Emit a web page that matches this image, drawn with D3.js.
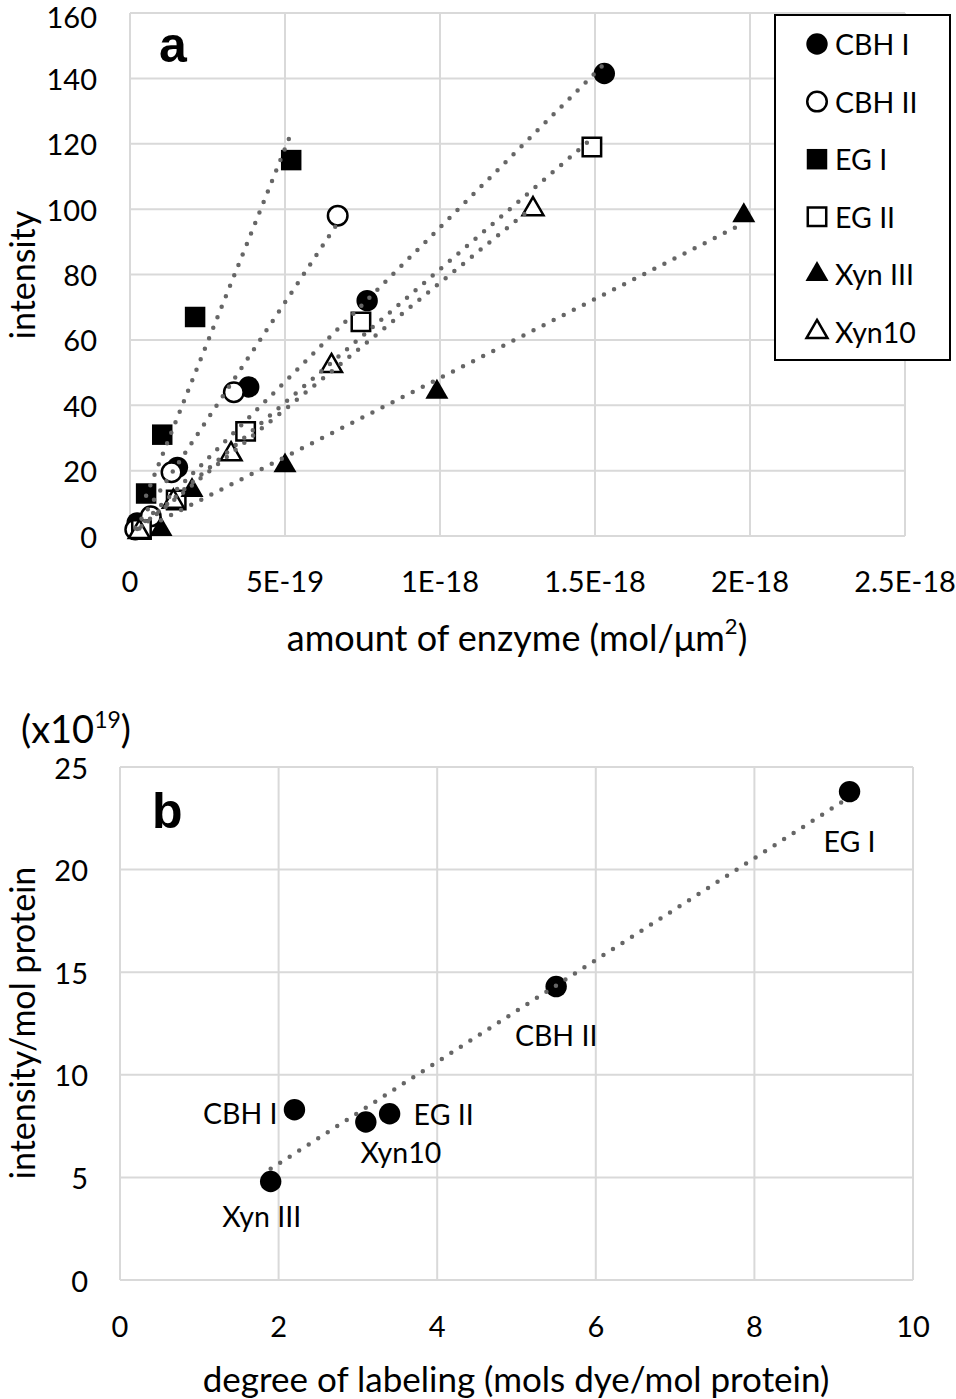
<!DOCTYPE html>
<html>
<head>
<meta charset="utf-8">
<script src="https://cdn.jsdelivr.net/npm/d3@7"></script>
<style>
  html, body { margin: 0; padding: 0; background: #fff; }
  svg { display: block; }
  text { font-family: Lato, "Noto Sans", sans-serif; fill: #000; }
</style>
</head>
<body>
<svg id="chart" width="956" height="1399"></svg>
<script>
// ---------------- Panel a data ----------------
const seriesNames = ["CBH I", "CBH II", "EG I", "EG II", "Xyn III", "Xyn10"];
const cbh1X = [2.3e-20, 1.53e-19, 3.83e-19, 7.65e-19, 1.53e-18];
const cbh1Y = [4, 21, 45.6, 72, 141.5];
const cbh2X = [1.7e-20, 6.7e-20, 1.34e-19, 3.35e-19, 6.7e-19];
const cbh2Y = [2, 6, 19.5, 44, 98];
const eg1X = [5.2e-20, 1.04e-19, 2.1e-19, 5.2e-19];
const eg1Y = [13, 31, 67, 115];
const eg2X = [3.7e-20, 1.49e-19, 3.73e-19, 7.45e-19, 1.49e-18];
const eg2Y = [2, 11, 32, 65.5, 119];
const xyn3X = [1.0e-19, 2.0e-19, 5.0e-19, 9.9e-19, 1.98e-18];
const xyn3Y = [2, 14, 21.5, 44, 98];
const xyn10X = [3.0e-20, 1.4e-19, 3.26e-19, 6.5e-19, 1.3e-18];
const xyn10Y = [1.2, 10.5, 25, 52, 100];
const xTicksA = [0, 5e-19, 1e-18, 1.5e-18, 2e-18, 2.5e-18];
const xTickLabelsA = ["0", "5E-19", "1E-18", "1.5E-18", "2E-18", "2.5E-18"];
const yTicksA = [0, 20, 40, 60, 80, 100, 120, 140, 160];

// ---------------- Panel b data ----------------
const enzymesB = ["EG I", "CBH II", "CBH I", "EG II", "Xyn10", "Xyn III"];
const dolB = [9.2, 5.5, 2.2, 3.4, 3.1, 1.9];
const intPerMolB = [23.8, 14.3, 8.3, 8.1, 7.7, 4.8];
const xTicksB = [0, 2, 4, 6, 8, 10];
const yTicksB = [0, 5, 10, 15, 20, 25];

const svg = d3.select("#chart");
const GRID = "#d9d9d9";
const TREND = "#666666";

// least-squares line with free intercept
function regression(xs, ys) {
  const n = xs.length;
  const mx = d3.mean(xs), my = d3.mean(ys);
  let sxy = 0, sxx = 0;
  for (let i = 0; i < n; i++) { sxy += (xs[i]-mx)*(ys[i]-my); sxx += (xs[i]-mx)*(xs[i]-mx); }
  const m = sxy / sxx;
  return { m, b: my - m * mx };
}
// least-squares line forced through the origin
function regressionOrigin(xs, ys) {
  let sxy = 0, sxx = 0;
  for (let i = 0; i < xs.length; i++) { sxy += xs[i]*ys[i]; sxx += xs[i]*xs[i]; }
  return { m: sxy / sxx, b: 0 };
}

const markerShapes = [
  { type: d3.symbolCircle, size: 360, fill: "#000" },
  { type: d3.symbolCircle, size: 300, fill: "#fff" },
  { type: d3.symbolSquare, size: 420, fill: "#000" },
  { type: d3.symbolSquare, size: 340, fill: "#fff" },
  { type: d3.symbolTriangle, size: 230, fill: "#000" },
  { type: d3.symbolTriangle, size: 190, fill: "#fff" }
];

// ================= PANEL A =================
const xA = d3.scaleLinear().domain([0, 2.5e-18]).range([130, 905]);
const yA = d3.scaleLinear().domain([0, 160]).range([536, 13]);
const gA = svg.append("g");

gA.selectAll(".hgA").data(yTicksA).join("line")
  .attr("x1", xA(0)).attr("x2", xA(2.5e-18))
  .attr("y1", d => yA(d)).attr("y2", d => yA(d))
  .attr("stroke", GRID).attr("stroke-width", 2);
gA.selectAll(".vgA").data(xTicksA).join("line")
  .attr("x1", d => xA(d)).attr("x2", d => xA(d))
  .attr("y1", yA(0)).attr("y2", yA(160))
  .attr("stroke", GRID).attr("stroke-width", 2);

gA.selectAll(".ytA").data(yTicksA).join("text")
  .attr("x", 97).attr("y", d => yA(d) + (d === 160 ? 3 : 0)).attr("text-anchor", "end")
  .attr("dominant-baseline", "central").attr("font-size", 29).text(d => d);
gA.selectAll(".xtA").data(xTicksA).join("text")
  .attr("x", d => xA(d)).attr("y", 580).attr("text-anchor", "middle")
  .attr("dominant-baseline", "central").attr("font-size", 29)
  .text((d, i) => xTickLabelsA[i]);

const xtA = gA.append("text").attr("x", 517).attr("y", 637).attr("text-anchor", "middle")
  .attr("dominant-baseline", "central").attr("font-size", 36);
xtA.append("tspan").text("amount of enzyme (mol/μm");
xtA.append("tspan").attr("font-size", 22).attr("dy", -12).text("2");
xtA.append("tspan").attr("dy", 12).text(")");
gA.append("text").attr("transform", "translate(21,275) rotate(-90)")
  .attr("text-anchor", "middle").attr("dominant-baseline", "central")
  .attr("font-size", 34).text("intensity");

gA.append("text").attr("x", 159).attr("y", 62)
  .style("font-family", "'Liberation Sans', Arial, sans-serif")
  .attr("font-weight", "bold").attr("font-size", 50).text("a");

const seriesA = [
  [cbh1X, cbh1Y], [cbh2X, cbh2Y], [eg1X, eg1Y],
  [eg2X, eg2Y], [xyn3X, xyn3Y], [xyn10X, xyn10Y]
];

seriesA.forEach((s, si) => {
  const sh = markerShapes[si];
  const pts = s[0].map((x, i) => [x, s[1][i]]);
  gA.append("g").selectAll("path").data(pts).join("path")
    .attr("d", d3.symbol().type(sh.type).size(sh.size))
    .attr("transform", d => `translate(${xA(d[0])},${yA(d[1])})`)
    .attr("fill", sh.fill).attr("stroke", "#000")
    .attr("stroke-width", sh.fill === "#fff" ? 2.5 : 0);
});

seriesA.forEach((s) => {
  const r = regressionOrigin(s[0], s[1]);
  const x0 = d3.min(s[0]), x1 = d3.max(s[0]);
  gA.append("line")
    .attr("x1", xA(x0)).attr("y1", yA(r.m * x0 + r.b))
    .attr("x2", xA(x1)).attr("y2", yA(r.m * x1 + r.b))
    .attr("stroke", TREND).attr("stroke-width", 4.5)
    .attr("stroke-linecap", "round").attr("stroke-dasharray", "0 11.3");
});

const lg = gA.append("g");
lg.append("rect").attr("x", 775).attr("y", 15).attr("width", 175).attr("height", 345)
  .attr("fill", "#fff").attr("stroke", "#000").attr("stroke-width", 2);
seriesNames.forEach((name, i) => {
  const cy = 44 + i * 57.6;
  const sh = markerShapes[i];
  lg.append("path").attr("d", d3.symbol().type(sh.type).size(sh.size))
    .attr("transform", `translate(817,${cy})`)
    .attr("fill", sh.fill).attr("stroke", "#000")
    .attr("stroke-width", sh.fill === "#fff" ? 2.5 : 0);
  lg.append("text").attr("x", 835).attr("y", cy).attr("dominant-baseline", "central")
    .attr("font-size", 28.5).text(name);
});

// ================= PANEL B =================
const xB = d3.scaleLinear().domain([0, 10]).range([120, 913]);
const yB = d3.scaleLinear().domain([0, 25]).range([1280, 767]);
const gB = svg.append("g");

gB.selectAll(".hgB").data(yTicksB).join("line")
  .attr("x1", xB(0)).attr("x2", xB(10))
  .attr("y1", d => yB(d)).attr("y2", d => yB(d))
  .attr("stroke", GRID).attr("stroke-width", 2);
gB.selectAll(".vgB").data(xTicksB).join("line")
  .attr("x1", d => xB(d)).attr("x2", d => xB(d))
  .attr("y1", yB(0)).attr("y2", yB(25))
  .attr("stroke", GRID).attr("stroke-width", 2);

gB.selectAll(".ytB").data(yTicksB).join("text")
  .attr("x", 88).attr("y", d => yB(d)).attr("text-anchor", "end")
  .attr("dominant-baseline", "central").attr("font-size", 29).text(d => d);
gB.selectAll(".xtB").data(xTicksB).join("text")
  .attr("x", d => xB(d)).attr("y", 1325).attr("text-anchor", "middle")
  .attr("dominant-baseline", "central").attr("font-size", 29).text(d => d);

const unit = gB.append("text").attr("x", 21).attr("y", 743).attr("font-size", 38);
unit.append("tspan").text("(x10");
unit.append("tspan").attr("font-size", 23).attr("dy", -15).text("19");
unit.append("tspan").attr("dy", 15).text(")");

gB.append("text").attr("x", 516).attr("y", 1378).attr("text-anchor", "middle")
  .attr("dominant-baseline", "central").attr("font-size", 35)
  .text("degree of labeling (mols dye/mol protein)");
gB.append("text").attr("transform", "translate(21,1023) rotate(-90)")
  .attr("text-anchor", "middle").attr("dominant-baseline", "central")
  .attr("font-size", 34).text("intensity/mol protein");

gB.append("text").attr("x", 152).attr("y", 828)
  .style("font-family", "'Liberation Sans', Arial, sans-serif")
  .attr("font-weight", "bold").attr("font-size", 50).text("b");

const ptsB = dolB.map((x, i) => ({ x, y: intPerMolB[i], name: enzymesB[i] }));
gB.selectAll(".ptB").data(ptsB).join("path")
  .attr("d", d3.symbol().type(d3.symbolCircle).size(360))
  .attr("transform", d => `translate(${xB(d.x)},${yB(d.y)})`)
  .attr("fill", "#000");

const rB = regression(dolB, intPerMolB);
const bx0 = d3.min(dolB), bx1 = d3.max(dolB);
gB.append("line")
  .attr("x1", xB(bx0)).attr("y1", yB(rB.m * bx0 + rB.b))
  .attr("x2", xB(bx1)).attr("y2", yB(rB.m * bx1 + rB.b))
  .attr("stroke", TREND).attr("stroke-width", 4.5)
  .attr("stroke-linecap", "round").attr("stroke-dasharray", "0 11.3");

const labelOffsets = {
  "EG I": [0, 49, "middle"],
  "CBH II": [0, 48, "middle"],
  "CBH I": [-17, 3, "end"],
  "EG II": [24, 0, "start"],
  "Xyn10": [35, 30, "middle"],
  "Xyn III": [-9, 34, "middle"]
};
gB.selectAll(".lblB").data(ptsB).join("text")
  .attr("x", d => xB(d.x) + labelOffsets[d.name][0])
  .attr("y", d => yB(d.y) + labelOffsets[d.name][1])
  .attr("text-anchor", d => labelOffsets[d.name][2])
  .attr("dominant-baseline", "central").attr("font-size", 28.5)
  .text(d => d.name);
</script>
</body>
</html>
